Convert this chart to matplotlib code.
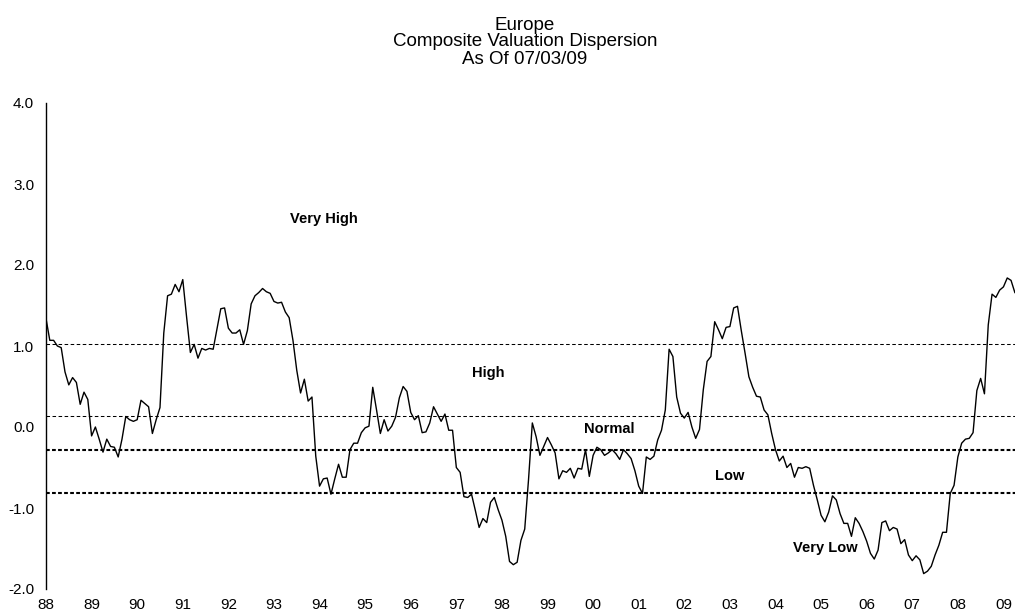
import numpy as np
import matplotlib.pyplot as plt

plt.rcParams['font.family'] = ['Liberation Sans', 'DejaVu Sans']

# Monthly composite valuation dispersion, Jan 1988 onwards
dispersion = [
    1.34, 1.07, 1.07, 1.00, 0.98, 0.68, 0.52, 0.61, 0.55, 0.28, 0.43, 0.34,
    -0.11, 0.00, -0.15, -0.31, -0.15, -0.24, -0.25, -0.37, -0.15, 0.13, 0.09, 0.07,
    0.09, 0.33, 0.29, 0.25, -0.08, 0.09, 0.24, 1.16, 1.62, 1.64, 1.76, 1.67,
    1.82, 1.36, 0.92, 1.02, 0.85, 0.97, 0.95, 0.97, 0.96, 1.21, 1.46, 1.47,
    1.22, 1.16, 1.16, 1.20, 1.02, 1.19, 1.52, 1.62, 1.66, 1.71, 1.67, 1.65,
    1.55, 1.53, 1.54, 1.42, 1.35, 1.07, 0.70, 0.42, 0.59, 0.32, 0.37, -0.36,
    -0.73, -0.64, -0.63, -0.83, -0.64, -0.46, -0.62, -0.62, -0.28, -0.20, -0.20, -0.07,
    -0.01, 0.01, 0.49, 0.21, -0.08, 0.09, -0.05, 0.01, 0.12, 0.36, 0.50, 0.44,
    0.18, 0.09, 0.14, -0.07, -0.06, 0.05, 0.25, 0.16, 0.07, 0.16, -0.04, -0.04,
    -0.50, -0.56, -0.86, -0.87, -0.83, -1.03, -1.24, -1.13, -1.18, -0.93, -0.87, -1.02,
    -1.15, -1.35, -1.66, -1.70, -1.67, -1.40, -1.26, -0.65, 0.05, -0.12, -0.35, -0.24,
    -0.13, -0.22, -0.32, -0.64, -0.54, -0.56, -0.51, -0.63, -0.51, -0.52, -0.28, -0.61,
    -0.35, -0.25, -0.28, -0.35, -0.32, -0.28, -0.33, -0.40, -0.28, -0.33, -0.39, -0.54,
    -0.73, -0.82, -0.37, -0.40, -0.36, -0.16, -0.04, 0.21, 0.96, 0.87, 0.37, 0.17,
    0.11, 0.18, 0.00, -0.14, -0.03, 0.46, 0.81, 0.87, 1.30, 1.20, 1.09, 1.23,
    1.24, 1.47, 1.49, 1.19, 0.91, 0.62, 0.49, 0.38, 0.37, 0.21, 0.15, -0.08,
    -0.28, -0.42, -0.36, -0.50, -0.45, -0.62, -0.50, -0.51, -0.49, -0.51, -0.72, -0.90,
    -1.09, -1.17, -1.05, -0.85, -0.90, -1.07, -1.19, -1.19, -1.35, -1.12, -1.19, -1.29,
    -1.41, -1.56, -1.63, -1.52, -1.18, -1.16, -1.28, -1.24, -1.26, -1.44, -1.39, -1.58,
    -1.65, -1.59, -1.64, -1.81, -1.78, -1.72, -1.58, -1.46, -1.30, -1.30, -0.82, -0.72,
    -0.37, -0.20, -0.15, -0.14, -0.07, 0.45, 0.60, 0.41, 1.26, 1.64, 1.60, 1.69,
    1.73, 1.84, 1.81, 1.66,
]
start_year = 1988

# band boundaries
upper_bands = [1.02, 0.13]
lower_bands = [-0.28, -0.81]

band_labels = ['Very High', 'High', 'Normal', 'Low', 'Very Low']
band_label_x = [1994.1, 1997.7, 2000.35, 2003.0, 2005.1]
band_label_y = [2.57, 0.67, -0.02, -0.60, -1.49]

title_lines = ['Europe', 'Composite Valuation Dispersion', 'As Of 07/03/09']

years = list(range(1988, 2010))
year_labels = [str(y)[2:] for y in years]
y_ticks = [4.0, 3.0, 2.0, 1.0, 0.0, -1.0, -2.0]

x = start_year + np.arange(len(dispersion)) / 12.0

fig = plt.figure(figsize=(10.15, 6.15), dpi=100)
ax = fig.add_axes([46 / 1015, 26 / 615, 1 - 46 / 1015, 486 / 615])

for yb in upper_bands:
    ax.axhline(yb, color='black', lw=0.75, dashes=(3.4, 2.4))
for yb in lower_bands:
    ax.axhline(yb, color='black', lw=1.5, dashes=(1.8, 1.1))

ax.plot(x, dispersion, color='black', lw=1.0)

for lab, lx, ly in zip(band_labels, band_label_x, band_label_y):
    ax.text(lx, ly, lab, ha='center', va='center', fontsize=10.5, fontweight='bold')

ax.set_xlim(start_year, start_year + len(dispersion) / 12.0 - 0.08)
ax.set_ylim(-2, 4)
ax.set_xticks(years)
ax.set_xticklabels(year_labels)
ax.set_yticks(y_ticks)
ax.set_yticklabels([f'{v:.1f}' for v in y_ticks])
ax.tick_params(axis='both', length=0, labelsize=11)
ax.tick_params(axis='x', pad=6.5)
ax.tick_params(axis='y', pad=8.5)

for s in ['top', 'right', 'bottom']:
    ax.spines[s].set_visible(False)
ax.spines['left'].set_linewidth(1.0)

# title, three lines set close together as in the original
for i, line in enumerate(title_lines):
    fig.text(525 / 1015, 1 - (29.5 + 17 * i) / 615, line,
             ha='center', va='baseline', fontsize=13.5)

fig.savefig('out.png', dpi=100)
